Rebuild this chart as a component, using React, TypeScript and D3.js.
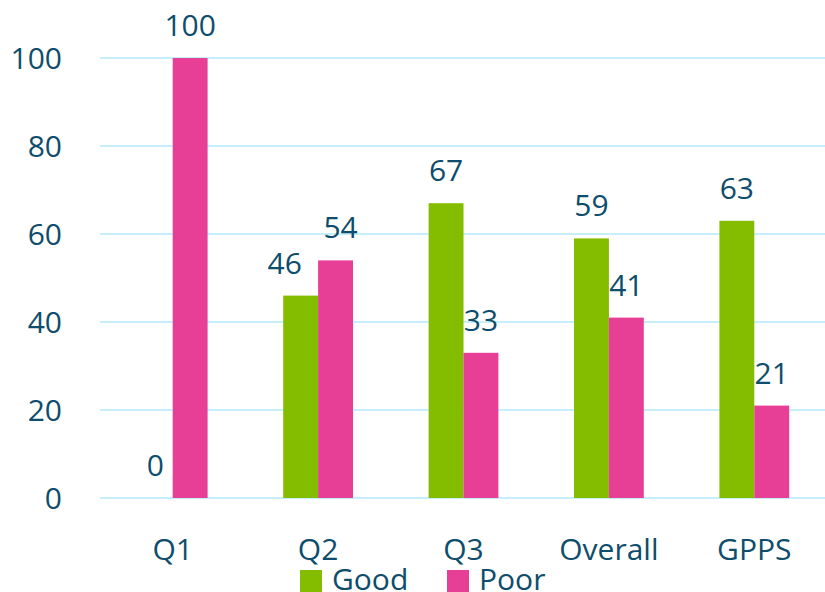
import React, { useRef, useEffect } from "react";
import * as d3 from "d3";

const categories = ["Q1", "Q2", "Q3", "Overall", "GPPS"];
const goodValues = [0, 46, 67, 59, 63];
const poorValues = [100, 54, 33, 41, 21];
const yTicks = [0, 20, 40, 60, 80, 100];
const seriesNames = ["Good", "Poor"];
const seriesColors = ["#84bd00", "#e73f96"];

const WIDTH = 825;
const HEIGHT = 592;
const TEXT = "#0e4d6b";
const FONT = "'Open Sans', sans-serif";
const FS = 30;

function drawChart(svgEl: SVGSVGElement) {
  const margin = { top: 58, right: -2, bottom: 94, left: 100 };
  const innerW = WIDTH - margin.left - margin.right;
  const innerH = HEIGHT - margin.top - margin.bottom;

  const svg = d3.select(svgEl);
  svg.selectAll("*").remove();

  const g = svg.append("g").attr("transform", `translate(${margin.left},${margin.top})`);

  const x = d3.scaleBand().domain(categories).range([0, innerW]).paddingInner(0.52).paddingOuter(0.26);
  const xs = d3.scaleBand().domain(seriesNames).range([0, x.bandwidth()]);
  const y = d3.scaleLinear().domain([0, 100]).range([innerH, 0]);

  // gridlines
  g.selectAll("line.grid")
    .data(yTicks)
    .enter()
    .append("line")
    .attr("x1", 0)
    .attr("x2", innerW)
    .attr("y1", (d) => y(d))
    .attr("y2", (d) => y(d))
    .attr("stroke", "#c7effb")
    .attr("stroke-width", 2);

  // y tick labels
  g.selectAll("text.ytick")
    .data(yTicks)
    .enter()
    .append("text")
    .attr("x", -38)
    .attr("y", (d) => y(d))
    .attr("dy", "0.36em")
    .attr("text-anchor", "end")
    .attr("font-family", FONT)
    .attr("font-size", FS)
    .attr("fill", TEXT)
    .text((d) => d);

  const rows = categories.map((c, i) => ({ c, vals: [goodValues[i], poorValues[i]] }));

  const groups = g
    .selectAll("g.cat")
    .data(rows)
    .enter()
    .append("g")
    .attr("transform", (d) => `translate(${x(d.c)},0)`);

  groups
    .selectAll("rect")
    .data((d) => d.vals.map((v, k) => ({ v, k })))
    .enter()
    .append("rect")
    .attr("x", (d) => xs(seriesNames[d.k]) as number)
    .attr("width", xs.bandwidth())
    .attr("y", (d) => y(d.v))
    .attr("height", (d) => innerH - y(d.v))
    .attr("fill", (d) => seriesColors[d.k]);

  // value labels; push apart the pair when they sit at nearly the same height
  groups
    .selectAll("text.val")
    .data((d) => {
      const close = Math.abs(y(d.vals[0]) - y(d.vals[1])) < 36;
      return d.vals.map((v, k) => ({ v, k, close }));
    })
    .enter()
    .append("text")
    .attr(
      "x",
      (d) =>
        (xs(seriesNames[d.k]) as number) + xs.bandwidth() / 2 + (d.close ? (d.k === 0 ? -16 : 5) : 0)
    )
    .attr("y", (d) => y(d.v) - 22)
    .attr("text-anchor", "middle")
    .attr("font-family", FONT)
    .attr("font-size", FS)
    .attr("fill", TEXT)
    .text((d) => d.v);

  // x labels
  g.selectAll("text.xlab")
    .data(categories)
    .enter()
    .append("text")
    .attr("x", (d) => (x(d) as number) + x.bandwidth() / 2)
    .attr("y", innerH + 62)
    .attr("text-anchor", "middle")
    .attr("font-family", FONT)
    .attr("font-size", FS)
    .attr("fill", TEXT)
    .text((d) => d);

  // legend
  const legendX = [300, 447];
  const legend = svg
    .selectAll("g.legend")
    .data(seriesNames)
    .enter()
    .append("g")
    .attr("transform", (d, i) => `translate(${legendX[i]},570)`);
  legend
    .append("rect")
    .attr("width", 22)
    .attr("height", 22)
    .attr("fill", (d, i) => seriesColors[i]);
  legend
    .append("text")
    .attr("x", 32)
    .attr("y", 20)
    .attr("font-family", FONT)
    .attr("font-size", FS)
    .attr("fill", TEXT)
    .text((d) => d);
}

const App: React.FunctionComponent = function () {
  const ref = useRef<SVGSVGElement>(null);
  useEffect(() => {
    if (ref.current == null) return;
    drawChart(ref.current);
  }, []);
  return (
    <div style={{ position: "fixed", left: 0, top: 0 }}>
      <svg ref={ref} width={WIDTH} height={HEIGHT} style={{ display: "block", background: "#fff" }} />
    </div>
  );
};

export default App;
